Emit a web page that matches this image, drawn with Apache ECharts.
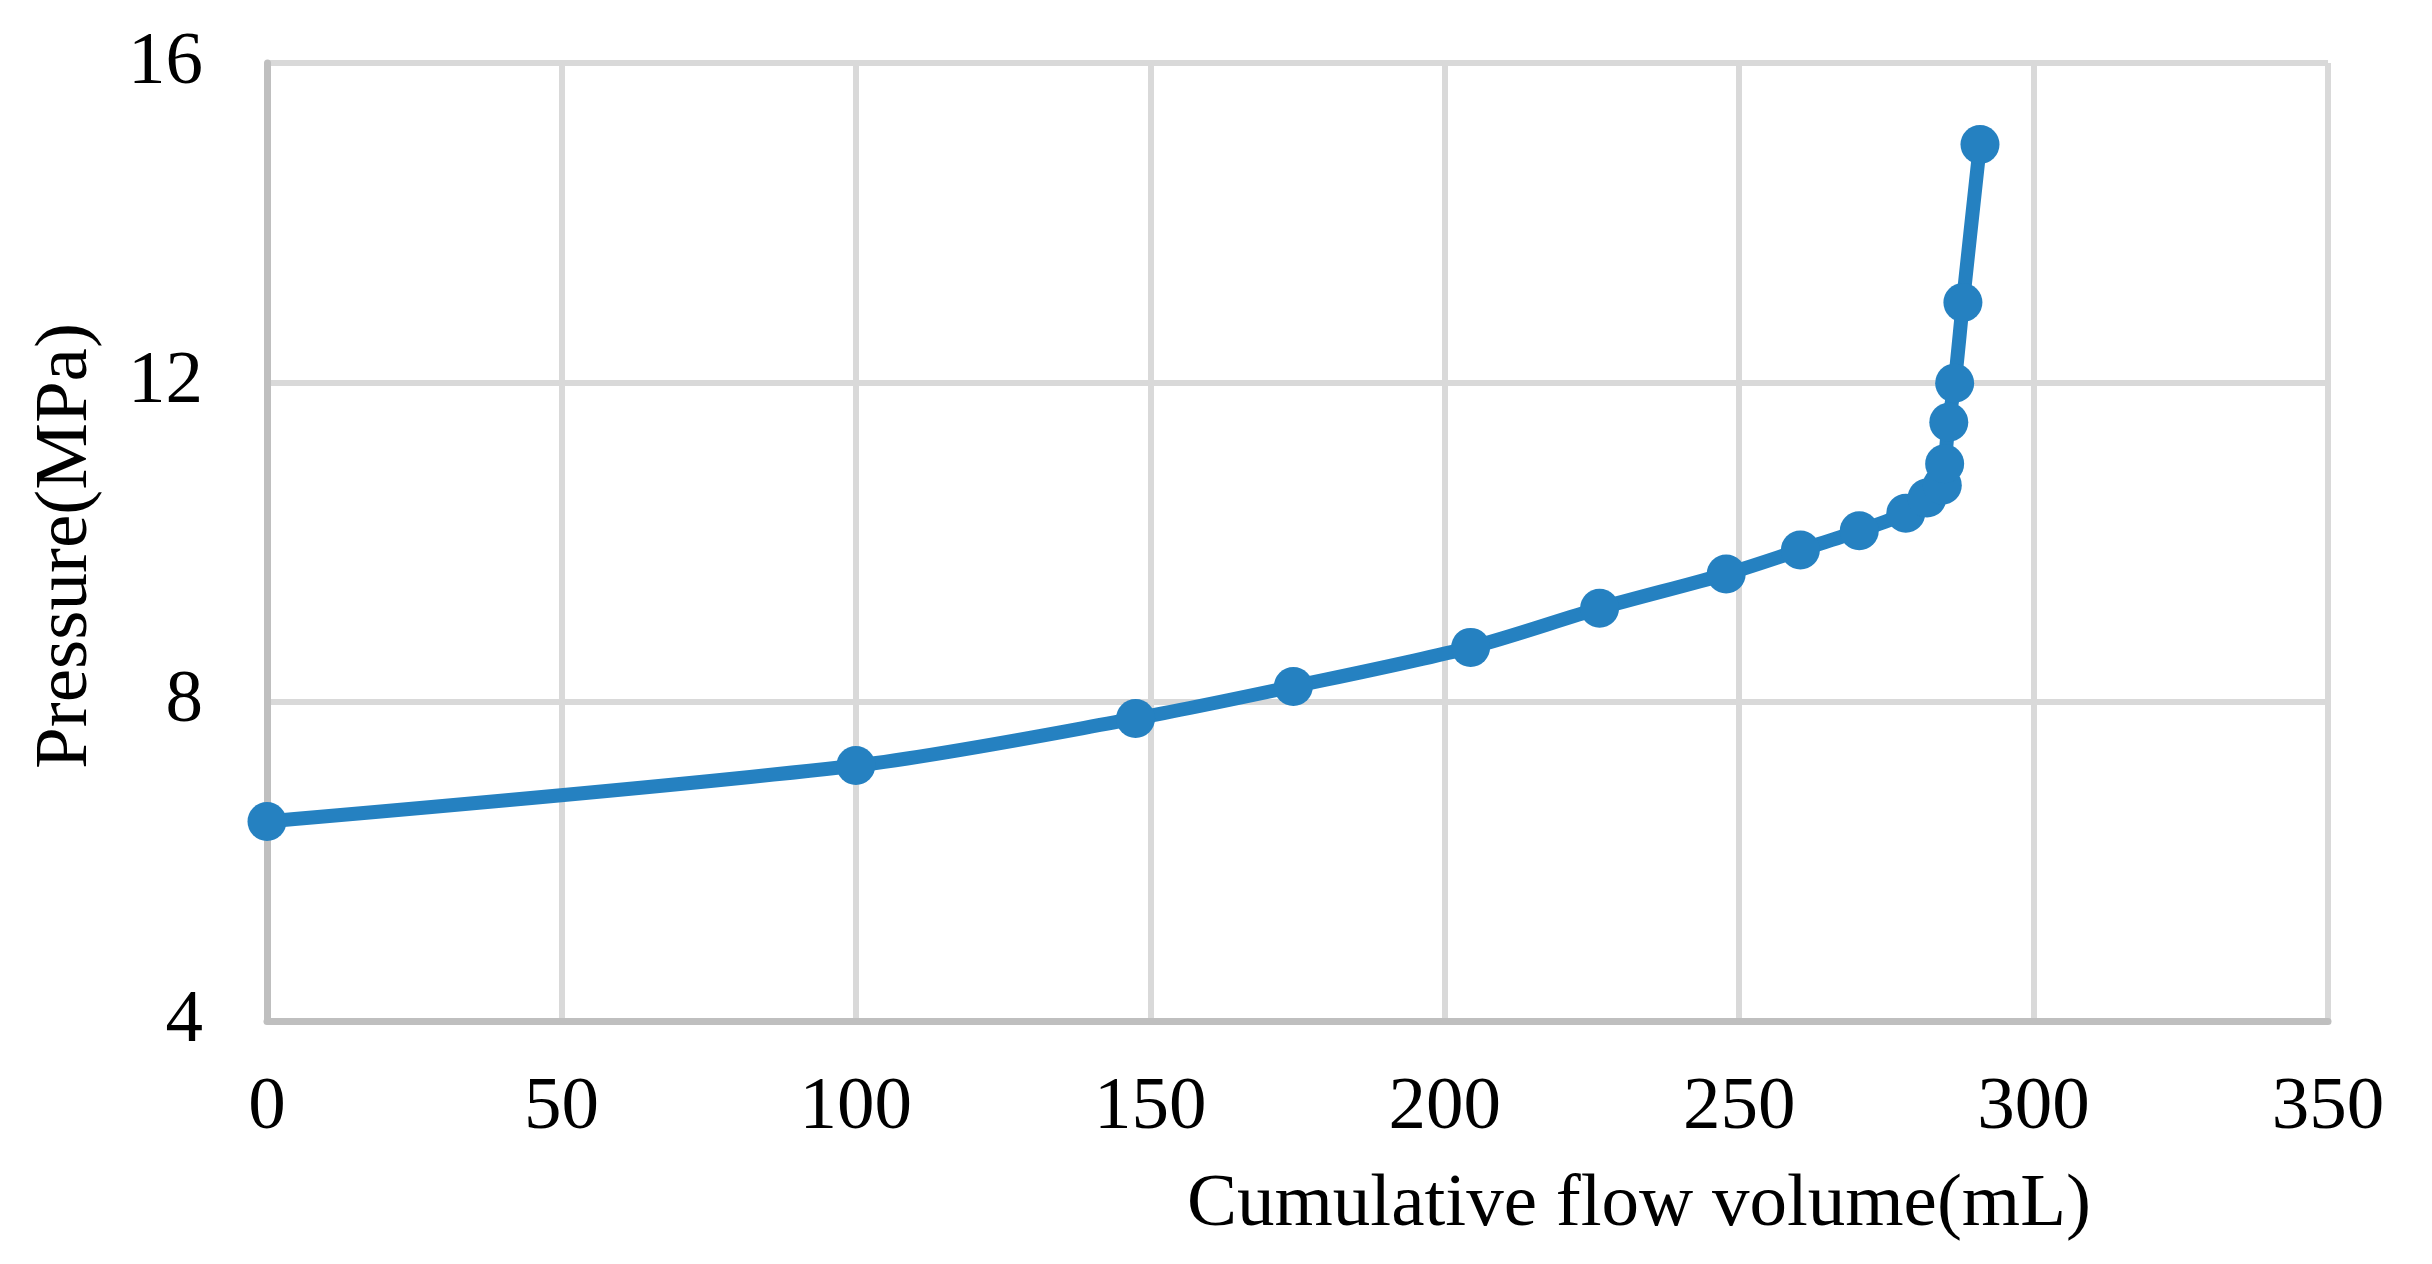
<!DOCTYPE html>
<html>
<head>
<meta charset="utf-8">
<style>
  html, body { margin: 0; padding: 0; background: #ffffff; }
  #chart { width: 2432px; height: 1264px; }
</style>
<script src="https://cdn.jsdelivr.net/npm/echarts@6/dist/echarts.min.js"></script>
</head>
<body>
<div id="chart"></div>
<script>
// Data
const flowVolume = [0, 100, 147.5, 174.3, 204.4, 226.3, 247.8, 260.4, 270.4, 278.3, 281.9, 284.5, 284.9, 285.6, 286.6, 288.0, 290.9];
const pressure   = [6.5, 7.2, 7.79, 8.19, 8.68, 9.17, 9.6, 9.9, 10.14, 10.36, 10.55, 10.71, 10.98, 11.5, 11.99, 13.0, 14.98];
const xTicks = [0, 50, 100, 150, 200, 250, 300, 350];
const yTicks = [4, 8, 12, 16];
const xTitle = 'Cumulative flow volume(mL)';
const yTitle = 'Pressure(MPa)';

const points = flowVolume.map((v, i) => [v, pressure[i]]);
const FONT = '"Liberation Serif", "Times New Roman", serif';

const chart = echarts.init(document.getElementById('chart'), null, { renderer: 'canvas' });
chart.setOption({
  backgroundColor: '#ffffff',
  animation: false,
  grid: { left: 267, right: 104, top: 63, bottom: 243, containLabel: false },
  xAxis: {
    type: 'value',
    min: xTicks[0], max: xTicks[xTicks.length - 1], interval: 50,
    axisLine: { show: true, lineStyle: { color: '#bfbfbf', width: 7 } },
    axisTick: { show: false },
    splitLine: { show: true, lineStyle: { color: '#d9d9d9', width: 6 } },
    axisLabel: { color: '#000', fontFamily: FONT, fontSize: 75, margin: 50 }
  },
  yAxis: {
    type: 'value',
    min: yTicks[0], max: yTicks[yTicks.length - 1], interval: 4,
    axisLine: { show: true, lineStyle: { color: '#bfbfbf', width: 7 } },
    axisTick: { show: false },
    splitLine: { show: true, lineStyle: { color: '#d9d9d9', width: 6 } },
    axisLabel: { color: '#000', fontFamily: FONT, fontSize: 75, margin: 64 }
  },
  graphic: [
    {
      type: 'text', x: 1639, y: 1205,
      style: { text: xTitle, fill: '#000', font: '75px ' + FONT, textAlign: 'center', textVerticalAlign: 'middle' }
    },
    {
      type: 'text', x: 66, y: 546, rotation: Math.PI / 2,
      style: { text: yTitle, fill: '#000', font: '75px ' + FONT, textAlign: 'center', textVerticalAlign: 'middle' }
    }
  ],
  series: [{
    type: 'line',
    data: points,
    smooth: 0.3,
    symbol: 'circle',
    symbolSize: 39,
    lineStyle: { color: '#2581c1', width: 14 },
    itemStyle: { color: '#2581c1' },
    clip: false
  }]
});
</script>
</body>
</html>
